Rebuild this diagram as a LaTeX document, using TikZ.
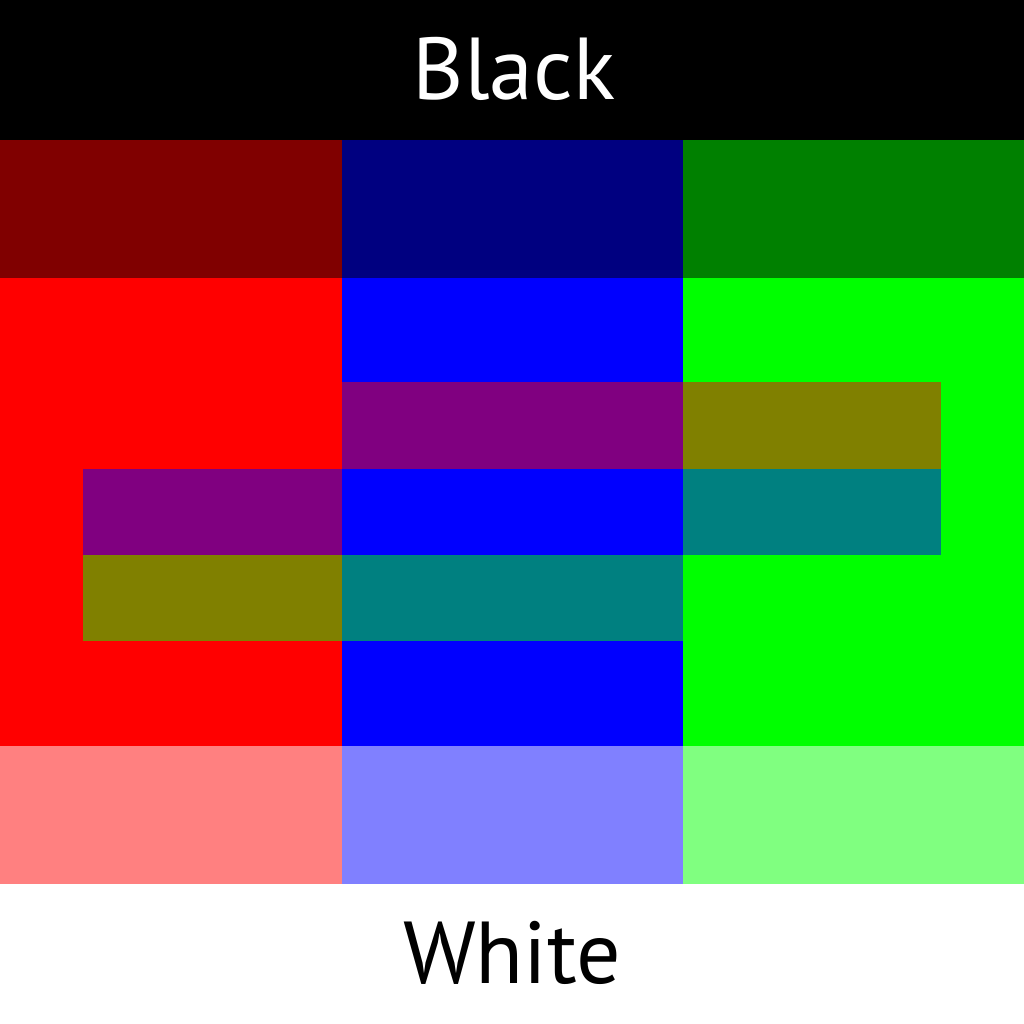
\documentclass[tikz,border=0pt]{standalone}
\usepackage{fontspec}
\setmainfont{PT Sans}
\definecolor{maroonc}{HTML}{800000}
\definecolor{navyc}{HTML}{000080}
\definecolor{darkgreenc}{HTML}{008000}
\definecolor{redc}{HTML}{FF0000}
\definecolor{bluec}{HTML}{0000FF}
\definecolor{limec}{HTML}{00FF00}
\definecolor{purplec}{HTML}{800080}
\definecolor{olivec}{HTML}{808000}
\definecolor{tealc}{HTML}{008080}
\definecolor{pinkc}{HTML}{FF8080}
\definecolor{lightbluec}{HTML}{8080FF}
\definecolor{lightgreenc}{HTML}{80FF80}

\begin{document}
\begin{tikzpicture}[x=0.01cm, y=-0.01cm,
  bandtext/.style={inner sep=0pt, font=\fontsize{25}{30}\selectfont}]
  \useasboundingbox (0,0) rectangle (1024,1024);
  % top and bottom bands
  \fill[black] (0,0) rectangle (1024,140);
  \fill[white] (0,884) rectangle (1024,1024);
  % dark row
  \fill[maroonc] (0,140) rectangle (342,278);
  \fill[navyc] (342,140) rectangle (683,278);
  \fill[darkgreenc] (683,140) rectangle (1024,278);
  % full colour columns
  \fill[redc] (0,278) rectangle (342,746);
  \fill[bluec] (342,278) rectangle (683,746);
  \fill[limec] (683,278) rectangle (1024,746);
  % mixed bars
  \fill[purplec] (342,382) rectangle (683,469);
  \fill[olivec] (683,382) rectangle (941,469);
  \fill[purplec] (83,469) rectangle (342,555);
  \fill[tealc] (683,469) rectangle (941,555);
  \fill[olivec] (83,555) rectangle (342,641);
  \fill[tealc] (342,555) rectangle (683,641);
  % light row
  \fill[pinkc] (0,746) rectangle (342,884);
  \fill[lightbluec] (342,746) rectangle (683,884);
  \fill[lightgreenc] (683,746) rectangle (1024,884);
  % labels
  \node[bandtext, text=white, anchor=base] (black) at (514,99) {Black};
  \node[bandtext, text=black, anchor=base] (white) at (512,983) {White};
\end{tikzpicture}
\end{document}
